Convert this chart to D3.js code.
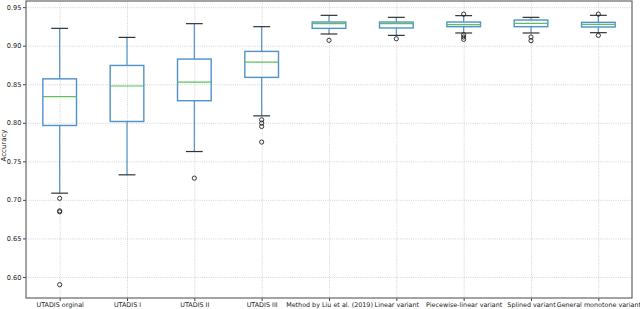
<!DOCTYPE html>
<html>
<head>
<meta charset="utf-8">
<script src="https://cdn.jsdelivr.net/npm/d3@7"></script>
<style>
  html, body { margin: 0; padding: 0; background: #fff; }
  svg { display: block; font-family: "DejaVu Sans", sans-serif; }
</style>
</head>
<body>
<script>
const categories = ['UTADIS orginal', 'UTADIS I', 'UTADIS II', 'UTADIS III', 'Method by Liu et al. (2019)',
    'Linear variant', 'Piecewise-linear variant', 'Splined variant', 'General monotone variant'];
const whiskerLow  = [0.7087, 0.7325, 0.7627, 0.8090, 0.9152, 0.9134, 0.9165, 0.9165, 0.9169];
const q1          = [0.7965, 0.8017, 0.8286, 0.8589, 0.9225, 0.9230, 0.9247, 0.9247, 0.9243];
const medians     = [0.8340, 0.8477, 0.8528, 0.8788, 0.9286, 0.9286, 0.9273, 0.9290, 0.9277];
const q3          = [0.8570, 0.8744, 0.8827, 0.8926, 0.9307, 0.9307, 0.9307, 0.9333, 0.9303];
const whiskerHigh = [0.9225, 0.9108, 0.9286, 0.9247, 0.9394, 0.9368, 0.9390, 0.9368, 0.9394];
const outliers = [
    [0.702, 0.6857, 0.6845, 0.590],
    [],
    [0.7282],
    [0.8039, 0.7996, 0.7952, 0.7750],
    [0.9070],
    [0.9090],
    [0.9410, 0.9143, 0.9113, 0.9082],
    [0.9113, 0.9065],
    [0.9410, 0.9134]
];
const yTicks = [0.60, 0.65, 0.70, 0.75, 0.80, 0.85, 0.90, 0.95];

const W = 640, H = 309;
const margin = { top: 1, right: 8, bottom: 11, left: 26 };
const width = W - margin.left - margin.right;
const height = H - margin.top - margin.bottom;

const svg = d3.select('body').append('svg')
    .attr('width', W)
    .attr('height', H);

svg.append('rect').attr('width', W).attr('height', H).attr('fill', 'white');

const g = svg.append('g')
    .attr('transform', `translate(${margin.left},${margin.top})`);

const x = d3.scaleLinear()
    .domain([0.5, categories.length + 0.5])
    .range([0, width]);

const y = d3.scaleLinear()
    .domain([0.5727, 0.958])
    .range([height, 0]);

const unit = x(1) - x(0);

// grid
g.append('g')
    .call(d3.axisLeft(y).tickValues(yTicks).tickSize(-width).tickFormat(''))
    .call(a => a.select('.domain').remove())
    .selectAll('line')
    .attr('stroke', '#c8c8c8')
    .attr('stroke-width', 0.8)
    .attr('stroke-dasharray', '1,1.2');

g.append('g')
    .attr('transform', `translate(0,${height})`)
    .call(d3.axisBottom(x).tickValues(d3.range(1, categories.length + 1)).tickSize(height).tickFormat(''))
    .call(a => a.select('.domain').remove())
    .selectAll('line')
    .attr('transform', `translate(0,${-height})`)
    .attr('stroke', '#c8c8c8')
    .attr('stroke-width', 0.8)
    .attr('stroke-dasharray', '1,1.2');

// boxes
const boxes = g.selectAll('.box')
    .data(categories.map((c, i) => ({
        c, pos: i + 1, lo: whiskerLow[i], q1: q1[i], med: medians[i], q3: q3[i], hi: whiskerHigh[i], out: outliers[i]
    })))
    .enter().append('g')
    .attr('class', 'box');

const blue = '#4f92c9';

// whiskers
boxes.append('line')
    .attr('x1', d => x(d.pos)).attr('x2', d => x(d.pos))
    .attr('y1', d => y(d.q3)).attr('y2', d => y(d.hi))
    .attr('stroke', blue).attr('stroke-width', 1.2);
boxes.append('line')
    .attr('x1', d => x(d.pos)).attr('x2', d => x(d.pos))
    .attr('y1', d => y(d.q1)).attr('y2', d => y(d.lo))
    .attr('stroke', blue).attr('stroke-width', 1.2);

// caps
boxes.append('line')
    .attr('x1', d => x(d.pos - 0.125)).attr('x2', d => x(d.pos + 0.125))
    .attr('y1', d => y(d.hi)).attr('y2', d => y(d.hi))
    .attr('stroke', '#333').attr('stroke-width', 1.2);
boxes.append('line')
    .attr('x1', d => x(d.pos - 0.125)).attr('x2', d => x(d.pos + 0.125))
    .attr('y1', d => y(d.lo)).attr('y2', d => y(d.lo))
    .attr('stroke', '#333').attr('stroke-width', 1.2);

// box
boxes.append('rect')
    .attr('x', d => x(d.pos - 0.25))
    .attr('width', unit * 0.5)
    .attr('y', d => y(d.q3))
    .attr('height', d => y(d.q1) - y(d.q3))
    .attr('fill', 'none')
    .attr('stroke', blue)
    .attr('stroke-width', 1.4);

// median
boxes.append('line')
    .attr('x1', d => x(d.pos - 0.25)).attr('x2', d => x(d.pos + 0.25))
    .attr('y1', d => y(d.med)).attr('y2', d => y(d.med))
    .attr('stroke', '#5fbf5f').attr('stroke-width', 1.2);

// fliers
boxes.selectAll('circle')
    .data(d => d.out.map(v => ({ pos: d.pos, v })))
    .enter().append('circle')
    .attr('cx', d => x(d.pos))
    .attr('cy', d => y(d.v))
    .attr('r', 2.1)
    .attr('fill', 'none')
    .attr('stroke', '#222')
    .attr('stroke-width', 0.9);

// axes
const yAxis = g.append('g')
    .call(d3.axisLeft(y).tickValues(yTicks).tickSize(3).tickPadding(1.5).tickFormat(d3.format('.2f')));
yAxis.select('.domain').remove();
yAxis.selectAll('text').attr('font-size', 6.6).attr('fill', '#222').attr('font-family', '"DejaVu Sans", sans-serif');
yAxis.selectAll('line').attr('stroke', '#444');

const xAxis = g.append('g')
    .attr('transform', `translate(0,${height})`)
    .call(d3.axisBottom(x).tickValues(d3.range(1, categories.length + 1)).tickSize(3).tickPadding(1)
        .tickFormat(d => categories[d - 1]));
xAxis.select('.domain').remove();
xAxis.selectAll('text').attr('font-size', 6.4).attr('fill', '#222').attr('font-family', '"DejaVu Sans", sans-serif');
xAxis.selectAll('line').attr('stroke', '#444');

// spines
g.append('rect')
    .attr('width', width).attr('height', height)
    .attr('fill', 'none').attr('stroke', '#666').attr('stroke-width', 1.2);

// y label
g.append('text')
    .attr('transform', 'rotate(-90)')
    .attr('x', -height / 2 + 4)
    .attr('y', -margin.left + 6)
    .attr('text-anchor', 'middle')
    .attr('font-size', 7)
    .attr('fill', '#222')
    .text('Accuracy');
</script>
</body>
</html>
